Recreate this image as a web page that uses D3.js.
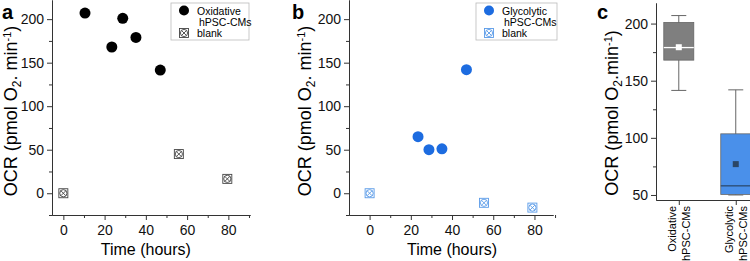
<!DOCTYPE html>
<html>
<head>
<meta charset="utf-8">
<script src="https://cdn.jsdelivr.net/npm/d3@7"></script>
<style>
  body { margin: 0; background: #fff; }
  svg { display: block; font-family: Arial, "Liberation Sans", sans-serif; }
  .axis path, .axis line { stroke: #333; }
  .axis text { fill: #111; font-size: 14px; font-family: Arial, "Liberation Sans", sans-serif; }
</style>
</head>
<body>
<div id="chart-area"></div>
<script>
// panel a
var oxTime = [10.5, 23.5, 28.8, 35.2, 47];
var oxOCR = [207, 168, 201, 179, 141.5];
var blankATime = [0, 56, 79.5];
var blankAOCR = [0, 45, 16.5];

// panel b
var glyTime = [23.5, 28.8, 35.1, 47];
var glyOCR = [65, 50, 51, 142];
var blankBTime = [0, 55.5, 79];
var blankBOCR = [0, -11, -16.5];

// panel c
var groups = [["Oxidative", "hPSC-CMs"], ["Glycolytic", "hPSC-CMs"]];

var timeTicks = [0, 20, 40, 60, 80];
var timeMinor = [10, 30, 50, 70, 90];
var ocrTicks = [0, 50, 100, 150, 200];
var ocrMinor = [-25, 25, 75, 125, 175];
var boxTicks = [50, 100, 150, 200];
var boxMinor = [75, 125, 175];

var svg = d3.select("#chart-area")
  .append("svg")
  .attr("width", 750)
  .attr("height", 261);

function zip(xs, ys) {
  return xs.map(function(d, i){ return {x: d, y: ys[i]}; });
}

function blankMarker(sel, color) {
  sel.append("rect")
    .attr("x", -4.5).attr("y", -4.5).attr("width", 9).attr("height", 9)
    .attr("fill", "#fff").attr("stroke", color).attr("stroke-width", 0.9);
  sel.append("circle").attr("r", 3.6)
    .attr("fill", "none").attr("stroke", color).attr("stroke-width", 0.9);
  sel.append("path").attr("d", "M-2.5,-2.5L2.5,2.5M-2.5,2.5L2.5,-2.5")
    .attr("stroke", color).attr("stroke-width", 0.9);
}

function ocrTitle(sel, sep) {
  sel.append("tspan").text("OCR (pmol O");
  sel.append("tspan").attr("font-size", 12).attr("dy", 4).text("2");
  sel.append("tspan").attr("dy", -4).text(sep + "min");
  sel.append("tspan").attr("font-size", 11).attr("dy", -6).text("-1");
  sel.append("tspan").attr("dy", 6).text(")");
}

function scatterPanel(opt) {
  var x = d3.scaleLinear().domain(opt.xDomain).range(opt.xRange);
  var y = d3.scaleLinear().domain([-25, 222]).range([opt.axisY, 0]);

  var g = svg.append("g");

  g.append("g").attr("class", "axis")
    .attr("transform", "translate(0," + opt.axisY + ")")
    .call(d3.axisBottom(x).tickValues(timeMinor).tickSize(3).tickFormat("").tickSizeOuter(0));
  g.append("g").attr("class", "axis")
    .attr("transform", "translate(0," + opt.axisY + ")")
    .call(d3.axisBottom(x).tickValues(timeTicks).tickSize(5).tickPadding(5).tickSizeOuter(0));

  g.append("g").attr("class", "axis")
    .attr("transform", "translate(" + opt.xRange[0] + ",0)")
    .call(d3.axisLeft(y).tickValues(ocrMinor).tickSize(3).tickFormat("").tickSizeOuter(0));
  g.append("g").attr("class", "axis")
    .attr("transform", "translate(" + opt.xRange[0] + ",0)")
    .call(d3.axisLeft(y).tickValues(ocrTicks).tickSize(5).tickPadding(3).tickSizeOuter(0));

  g.append("text")
    .attr("x", (x(0) + x(80)) / 2).attr("y", 255)
    .attr("text-anchor", "middle")
    .attr("font-size", 16)
    .text("Time (hours)");

  var yt = g.append("text")
    .attr("transform", "translate(" + opt.titleX + ",111) rotate(-90)")
    .attr("text-anchor", "middle")
    .attr("font-size", 18);
  ocrTitle(yt, ". ");

  g.append("text")
    .attr("x", opt.letterX).attr("y", 19)
    .attr("font-size", 20).attr("font-weight", "bold")
    .text(opt.letter);

  g.selectAll(".blank")
    .data(zip(opt.blankX, opt.blankY))
    .enter().append("g")
    .attr("transform", function(d){ return "translate(" + x(d.x) + "," + y(d.y) + ")"; })
    .each(function(){ blankMarker(d3.select(this), opt.blankColor); });

  g.selectAll(".dot")
    .data(zip(opt.dotX, opt.dotY))
    .enter().append("circle")
    .attr("cx", function(d){ return x(d.x); })
    .attr("cy", function(d){ return y(d.y); })
    .attr("r", 5.5)
    .attr("fill", opt.dotColor);

  // legend
  var lg = g.append("g").attr("transform", "translate(" + opt.legend[0] + "," + opt.legend[1] + ")");
  lg.append("rect")
    .attr("width", opt.legend[2]).attr("height", 37)
    .attr("fill", "#fff").attr("stroke", "#bbb").attr("stroke-width", 0.8);
  lg.append("circle").attr("cx", 13).attr("cy", 7.5).attr("r", 5).attr("fill", opt.dotColor);
  lg.append("text").attr("x", 26).attr("y", 11.5).attr("font-size", 10.5).text(opt.name);
  lg.append("text").attr("x", 28).attr("y", 22.5).attr("font-size", 10.5).text("hPSC-CMs");
  var bm = lg.append("g").attr("transform", "translate(13,30)");
  blankMarker(bm, opt.blankColor);
  lg.append("text").attr("x", 26).attr("y", 34).attr("font-size", 10.5).text("blank");
}

scatterPanel({
  xDomain: [-5.5, 90.5], xRange: [52, 250], axisY: 215,
  titleX: 17, letter: "a", letterX: 2,
  dotX: oxTime, dotY: oxOCR, dotColor: "#000",
  blankX: blankATime, blankY: blankAOCR, blankColor: "#444",
  name: "Oxidative", legend: [171, 3, 78]
});

scatterPanel({
  xDomain: [-10, 89], xRange: [349, 553], axisY: 215,
  titleX: 311, letter: "b", letterX: 292,
  dotX: glyTime, dotY: glyOCR, dotColor: "#1d6ce0",
  blankX: blankBTime, blankY: blankBOCR, blankColor: "#5a9be8",
  name: "Glycolytic", legend: [476, 3, 81]
});

// panel c: box chart
function hinges(vals) {
  var s = vals.slice().sort(d3.ascending);
  var n = s.length;
  var half = Math.ceil(n / 2);
  return {
    min: s[0], max: s[n - 1],
    q1: d3.median(s.slice(0, half)),
    q3: d3.median(s.slice(n - half)),
    med: d3.median(s), mean: d3.mean(s)
  };
}

var boxData = [
  {name: groups[0], pos: 1, st: hinges(oxOCR), fill: "#7f7f7f", medColor: "#fff", meanColor: "#fff"},
  {name: groups[1], pos: 2, st: hinges(glyOCR), fill: "#4a90ea", medColor: "#2c4a70", meanColor: "#2b4666"}
];

var cx = d3.scaleLinear().domain([0.6, 2.25]).range([656, 750]);
var cy = d3.scaleLinear().domain([45.6, 218]).range([200, 3]);

var gc = svg.append("g");

gc.append("g").attr("class", "axis")
  .attr("transform", "translate(0,200)")
  .call(d3.axisBottom(cx).tickValues([1, 2]).tickSize(5).tickFormat("").tickSizeOuter(0));

gc.append("g").attr("class", "axis")
  .attr("transform", "translate(656,0)")
  .call(d3.axisLeft(cy).tickValues(boxMinor).tickSize(3).tickFormat("").tickSizeOuter(0));
gc.append("g").attr("class", "axis")
  .attr("transform", "translate(656,0)")
  .call(d3.axisLeft(cy).tickValues(boxTicks).tickSize(5).tickPadding(3).tickSizeOuter(0));

var bw = 30, capW = 15;
var boxes = gc.selectAll(".box").data(boxData).enter().append("g");

boxes.append("line")
  .attr("x1", function(d){ return cx(d.pos); }).attr("x2", function(d){ return cx(d.pos); })
  .attr("y1", function(d){ return cy(d.st.max); }).attr("y2", function(d){ return cy(d.st.min); })
  .attr("stroke", "#666").attr("stroke-width", 1);
boxes.append("line")
  .attr("x1", function(d){ return cx(d.pos) - capW / 2; }).attr("x2", function(d){ return cx(d.pos) + capW / 2; })
  .attr("y1", function(d){ return cy(d.st.max); }).attr("y2", function(d){ return cy(d.st.max); })
  .attr("stroke", "#666");
boxes.append("line")
  .attr("x1", function(d){ return cx(d.pos) - capW / 2; }).attr("x2", function(d){ return cx(d.pos) + capW / 2; })
  .attr("y1", function(d){ return cy(d.st.min); }).attr("y2", function(d){ return cy(d.st.min); })
  .attr("stroke", "#666");
boxes.append("rect")
  .attr("x", function(d){ return cx(d.pos) - bw / 2; })
  .attr("y", function(d){ return cy(d.st.q3); })
  .attr("width", bw)
  .attr("height", function(d){ return cy(d.st.q1) - cy(d.st.q3); })
  .attr("fill", function(d){ return d.fill; })
  .attr("stroke", "#666").attr("stroke-width", 0.8);
boxes.append("line")
  .attr("x1", function(d){ return cx(d.pos) - bw / 2; }).attr("x2", function(d){ return cx(d.pos) + bw / 2; })
  .attr("y1", function(d){ return cy(d.st.med); }).attr("y2", function(d){ return cy(d.st.med); })
  .attr("stroke", function(d){ return d.medColor; }).attr("stroke-width", 1.3);
boxes.append("rect")
  .attr("x", function(d){ return cx(d.pos) - 3; })
  .attr("y", function(d){ return cy(d.st.mean) - 3; })
  .attr("width", 6).attr("height", 6)
  .attr("fill", function(d){ return d.meanColor; });

// rotated category labels
boxes.each(function(d){
  var t = d3.select(this).append("text")
    .attr("transform", "translate(" + cx(d.pos) + ",206) rotate(-90)")
    .attr("text-anchor", "end")
    .attr("font-size", 11);
  t.append("tspan").attr("x", 0).attr("dy", -2.5).text(d.name[0]);
  t.append("tspan").attr("x", 0).attr("dy", 13.5).text(d.name[1]);
});

var ct = gc.append("text")
  .attr("transform", "translate(618,113) rotate(-90)")
  .attr("text-anchor", "middle")
  .attr("font-size", 18);
ocrTitle(ct, ".");

gc.append("text")
  .attr("x", 597).attr("y", 19)
  .attr("font-size", 20).attr("font-weight", "bold")
  .text("c");
</script>
</body>
</html>
